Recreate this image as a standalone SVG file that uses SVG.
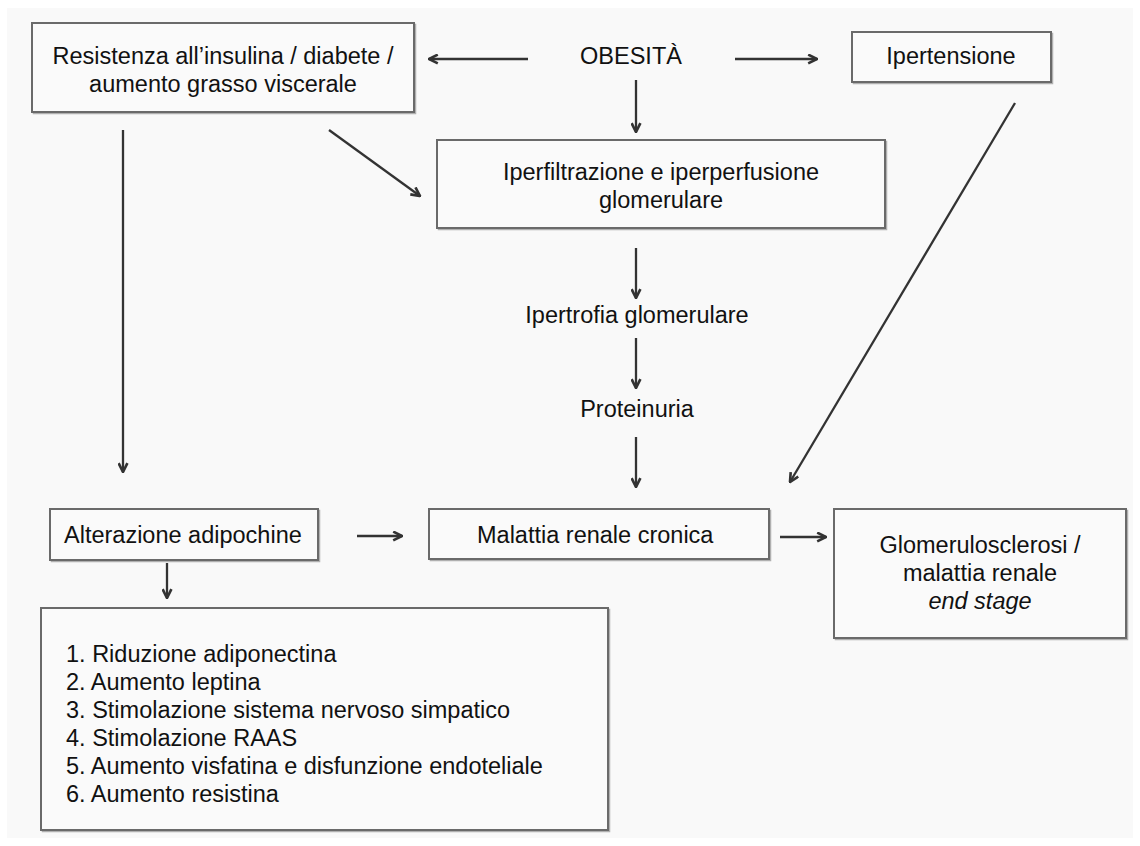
<svg xmlns="http://www.w3.org/2000/svg" width="1140" height="846" viewBox="0 0 1140 846">
<defs>
<marker id="ah" viewBox="0 0 10 10" refX="9" refY="5" markerWidth="11" markerHeight="11" markerUnits="userSpaceOnUse" orient="auto">
<path d="M1,1 L9,5 L1,9" fill="none" stroke="#333" stroke-width="2.4"/>
</marker>
</defs>
<style>
.box{fill:#fafafa;stroke:#6a6a6a;stroke-width:2}
.sh{fill:none;stroke:#b0b0b0;stroke-width:1.5}
.t{font-family:"Liberation Sans",Arial,sans-serif;font-size:23.5px;fill:#111}
.c{text-anchor:middle}
.e{stroke:#333;stroke-width:2.3;fill:none;marker-end:url(#ah)}
</style>
<rect x="0" y="0" width="1140" height="846" fill="#ffffff"/>
<rect x="7" y="8" width="1126" height="830" fill="#f9f9f9"/>
<g id="n-resistenza">
<rect class="sh" x="33.5" y="24.5" width="382" height="89"/>
<rect class="box" x="32" y="23" width="382" height="89"/>
<text class="t c" x="223" y="64">Resistenza all’insulina / diabete /</text>
<text class="t c" x="223" y="92">aumento grasso viscerale</text>
</g>
<g id="n-obesita">
<text class="t c" x="631" y="64">OBESITÀ</text>
</g>
<g id="n-ipertensione">
<rect class="sh" x="853.5" y="33.5" width="199" height="50"/>
<rect class="box" x="852" y="32" width="199" height="50"/>
<text class="t c" x="951" y="64">Ipertensione</text>
</g>
<g id="n-iperfiltrazione">
<rect class="sh" x="438.5" y="141.5" width="448" height="88"/>
<rect class="box" x="437" y="140" width="448" height="88"/>
<text class="t c" x="661" y="180">Iperfiltrazione e iperperfusione</text>
<text class="t c" x="661" y="208">glomerulare</text>
</g>
<g id="n-ipertrofia">
<text class="t c" x="637" y="323">Ipertrofia glomerulare</text>
</g>
<g id="n-proteinuria">
<text class="t c" x="637" y="417">Proteinuria</text>
</g>
<g id="n-alterazione">
<rect class="sh" x="51.5" y="510.5" width="268" height="51"/>
<rect class="box" x="50" y="509" width="268" height="51"/>
<text class="t" x="64" y="543">Alterazione adipochine</text>
</g>
<g id="n-malattia">
<rect class="sh" x="430.5" y="510.5" width="340" height="50"/>
<rect class="box" x="429" y="509" width="340" height="50"/>
<text class="t" x="477" y="543">Malattia renale cronica</text>
</g>
<g id="n-glomerulosclerosi">
<rect class="sh" x="835.5" y="510.5" width="292" height="129"/>
<rect class="box" x="834" y="509" width="292" height="129"/>
<text class="t c" x="980" y="553">Glomerulosclerosi /</text>
<text class="t c" x="980" y="581">malattia renale</text>
<text class="t c" x="980" y="609" font-style="italic">end stage</text>
</g>
<g id="n-lista">
<rect class="sh" x="42.5" y="609.5" width="567" height="222"/>
<rect class="box" x="41" y="608" width="567" height="222"/>
<text class="t" x="66" y="662">1. Riduzione adiponectina</text>
<text class="t" x="66" y="690">2. Aumento leptina</text>
<text class="t" x="66" y="718">3. Stimolazione sistema nervoso simpatico</text>
<text class="t" x="66" y="746">4. Stimolazione RAAS</text>
<text class="t" x="66" y="774">5. Aumento visfatina e disfunzione endoteliale</text>
<text class="t" x="66" y="802">6. Aumento resistina</text>
</g>
<g id="connectors">
<line class="e" x1="528" y1="59" x2="429" y2="59"/>
<line class="e" x1="735" y1="59" x2="817" y2="59"/>
<line class="e" x1="636" y1="80" x2="636" y2="132"/>
<line class="e" x1="329" y1="130" x2="420" y2="196"/>
<line class="e" x1="123" y1="130" x2="123" y2="472"/>
<line class="e" x1="1015" y1="103" x2="790" y2="482"/>
<line class="e" x1="636" y1="248" x2="636" y2="298"/>
<line class="e" x1="636" y1="338" x2="636" y2="388"/>
<line class="e" x1="636" y1="437" x2="636" y2="487"/>
<line class="e" x1="357" y1="536" x2="402" y2="536"/>
<line class="e" x1="780" y1="537" x2="826" y2="537"/>
<line class="e" x1="167" y1="563" x2="167" y2="598"/>
</g>
</svg>
